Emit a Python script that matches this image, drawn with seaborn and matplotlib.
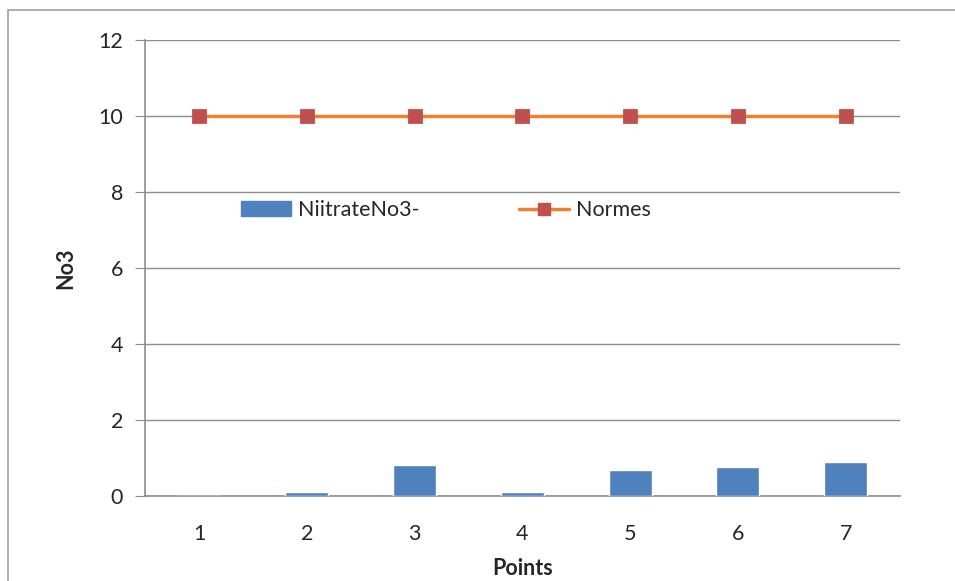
import matplotlib
matplotlib.use("Agg")
import matplotlib.pyplot as plt
import seaborn as sns
import pandas as pd
from matplotlib.patches import Patch, Rectangle
from matplotlib.lines import Line2D

points = ["1", "2", "3", "4", "5", "6", "7"]
nitrate = [0.0, 0.1, 0.82, 0.1, 0.69, 0.78, 0.89]
normes = [10, 10, 10, 10, 10, 10, 10]

df = pd.DataFrame({"Points": points, "NiitrateNo3-": nitrate, "Normes": normes})

sns.set_style("white")
plt.rcParams['font.family'] = ['Lato', 'DejaVu Sans']

bar_color = '#4F81BD'
line_color = '#F07F2E'
marker_color = '#C0504D'
grid_color = '#8C8C8C'

fig, ax = plt.subplots(figsize=(9.55, 5.81), dpi=100)
fig.subplots_adjust(left=0.152, right=0.942, top=0.931, bottom=0.146)

sns.barplot(data=df, x="Points", y="NiitrateNo3-", color=bar_color, width=0.4,
            saturation=1, ax=ax, zorder=3)
sns.pointplot(data=df, x="Points", y="Normes", color=line_color, markers='s',
              linestyles='-', ax=ax, errorbar=None)
for ln in ax.lines:
    ln.set_markerfacecolor(marker_color)
    ln.set_markeredgecolor(marker_color)
    ln.set_markersize(9)
    ln.set_linewidth(2.5)
    ln.set_zorder(4)

ax.set_ylim(0, 12)
ax.set_xlim(-0.5, 6.5)
ax.set_yticks(range(0, 13, 2))
ax.yaxis.grid(True, color=grid_color, linewidth=1)
ax.set_axisbelow(True)
for side in ['top', 'right']:
    ax.spines[side].set_visible(False)
for side in ['left', 'bottom']:
    ax.spines[side].set_color(grid_color)
    ax.spines[side].set_linewidth(1.2)
ax.tick_params(axis='y', length=7, color=grid_color, labelsize=15.5, left=True, pad=9)
ax.tick_params(axis='x', length=0, labelsize=15.5, pad=20)

ax.set_xlabel("Points", fontsize=15.5, fontweight='bold', labelpad=10)
ax.set_ylabel("No3", fontsize=15.5, fontweight='bold', labelpad=16)

handles = [Patch(facecolor=bar_color, edgecolor=bar_color),
           Line2D([], [], color=line_color, linewidth=2.5, marker='s', markersize=9,
                  markerfacecolor=marker_color, markeredgecolor=marker_color)]
ax.legend(handles, ["NiitrateNo3-", "Normes"], loc='center left', bbox_to_anchor=(0.1015, 0.627),
          ncol=2, frameon=False, fontsize=15.5, columnspacing=4.65, handlelength=2.32,
          handletextpad=0.3)

fig.patches.append(Rectangle((8 / 955, -0.1), 1.2, 1 - 10 / 581 + 0.1, transform=fig.transFigure,
                             fill=False, edgecolor='#A0A0A0', linewidth=1.2))

plt.savefig('out.png', dpi=100)
